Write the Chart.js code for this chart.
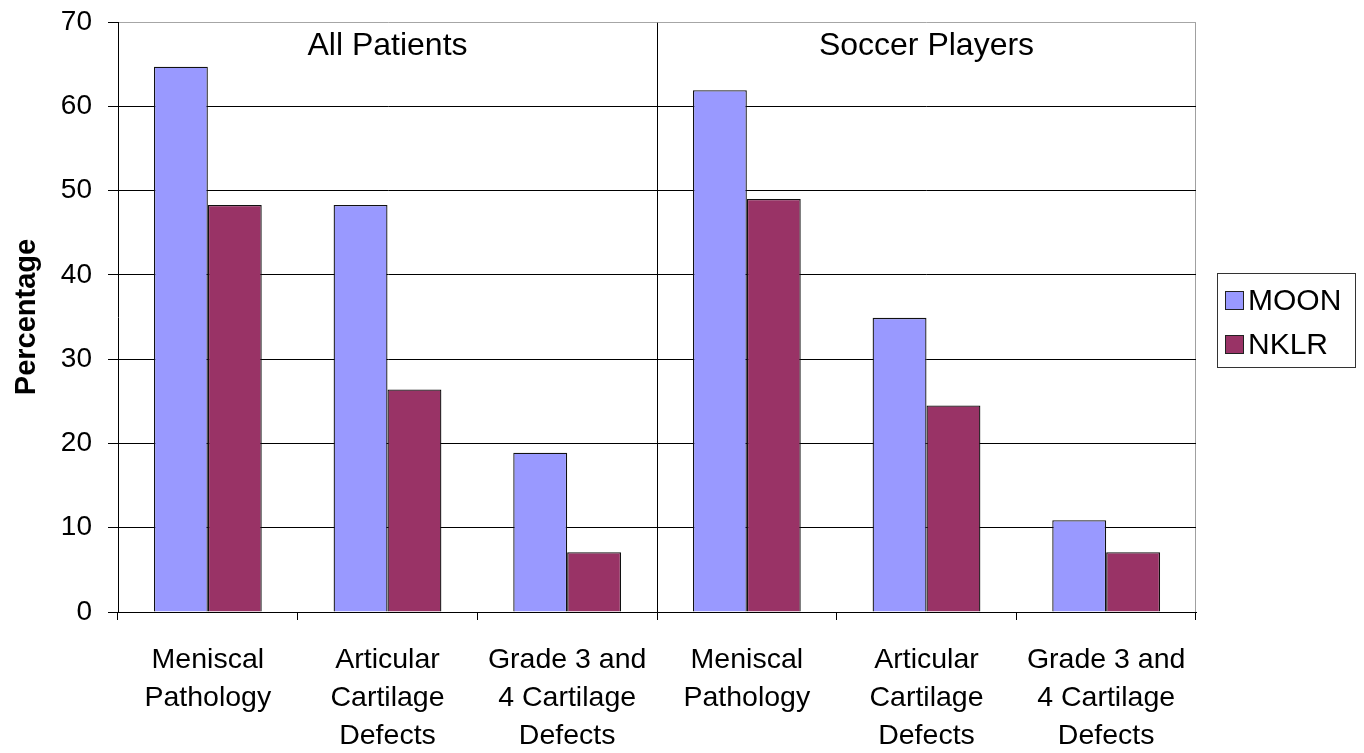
<!DOCTYPE html>
<html>
<head>
<meta charset="utf-8">
<script src="https://cdn.jsdelivr.net/npm/chart.js@4/dist/chart.umd.min.js"></script>
<style>
  html, body { margin: 0; padding: 0; background: #fff; }
  #wrap { width: 1364px; height: 753px; position: relative; }
</style>
</head>
<body>
<div id="wrap"><canvas id="c" width="1364" height="753"></canvas></div>
<script>
// Categories (two groups of three) and series values, in percent
const categories = [
  ['Meniscal', 'Pathology'],
  ['Articular', 'Cartilage', 'Defects'],
  ['Grade 3 and', '4 Cartilage', 'Defects'],
  ['Meniscal', 'Pathology'],
  ['Articular', 'Cartilage', 'Defects'],
  ['Grade 3 and', '4 Cartilage', 'Defects']
];
const groupLabels = ['All Patients', 'Soccer Players'];
const moonValues = [64.7, 48.3, 18.9, 61.9, 34.9, 10.9];
const nklrValues = [48.3, 26.4, 7.1, 49.0, 24.5, 7.1];
const seriesNames = ['MOON', 'NKLR'];
const yTicks = [0, 10, 20, 30, 40, 50, 60, 70];

const FONT = '"Liberation Sans", Arial, Helvetica, sans-serif';
const colors = ['#9999ff', '#993366'];

// Group captions inside the plot and the boxed legend on the right
const extras = {
  id: 'extras',
  afterDraw(chart) {
    const ctx = chart.ctx;
    const x = chart.scales.x, area = chart.chartArea;
    const per = groupLabels.length ? categories.length / groupLabels.length : 1;
    ctx.save();
    ctx.fillStyle = '#000';
    ctx.font = '32px ' + FONT;
    ctx.textAlign = 'center';
    ctx.textBaseline = 'middle';
    groupLabels.forEach((g, i) => {
      const l = x.getPixelForValue(i * per) - x.width / categories.length / 2;
      const r = x.getPixelForValue((i + 1) * per - 1) + x.width / categories.length / 2;
      ctx.fillText(g, (l + r) / 2, area.top + 24);
    });

    // legend
    const lx = area.right + 21, ly = area.top + 251, lw = 138, lh = 94;
    ctx.lineWidth = 1;
    ctx.strokeStyle = '#333';
    ctx.strokeRect(lx + 0.5, ly + 0.5, lw, lh);
    ctx.font = '30px ' + FONT;
    ctx.textAlign = 'left';
    seriesNames.forEach((name, i) => {
      const cy = ly + 28 + i * 44;
      ctx.fillStyle = colors[i];
      ctx.fillRect(lx + 8, cy - 10, 19, 19);
      ctx.strokeStyle = '#222';
      ctx.strokeRect(lx + 8.5, cy - 9.5, 18, 18);
      ctx.fillStyle = '#000';
      ctx.fillText(name, lx + 31, cy + 1);
    });
    ctx.restore();
  }
};

new Chart(document.getElementById('c'), {
  type: 'bar',
  data: {
    labels: categories,
    datasets: [
      { label: seriesNames[0], data: moonValues, backgroundColor: colors[0],
        borderColor: '#111', borderWidth: 1.3 },
      { label: seriesNames[1], data: nklrValues, backgroundColor: colors[1],
        borderColor: '#111', borderWidth: 1.3 }
    ]
  },
  options: {
    responsive: false,
    animation: false,
    devicePixelRatio: 1,
    layout: { padding: { top: 22, right: 168, bottom: 0, left: 0 } },
    datasets: { bar: { categoryPercentage: 0.6, barPercentage: 1.0 } },
    plugins: {
      legend: { display: false },
      tooltip: { enabled: false }
    },
    scales: {
      x: {
        offset: true,
        grid: {
          offset: true,
          drawOnChartArea: true,
          color: (c) => c.index === 3 ? '#000' : (c.index === undefined ? '#a0a0a0' : 'rgba(0,0,0,0)'),
          tickColor: '#000',
          tickLength: 8,
          lineWidth: 1
        },
        border: { color: '#000', width: 1 },
        ticks: {
          autoSkip: false,
          maxRotation: 0,
          minRotation: 0,
          padding: 21,
          color: '#000',
          font: { family: FONT, size: 28.5, lineHeight: 1.33 }
        },
        afterFit(s) { s.height = 141; }
      },
      y: {
        min: 0,
        max: 70,
        afterBuildTicks(s) { s.ticks = yTicks.map(v => ({ value: v })); },
        grid: {
          color: (c) => (c.tick && c.tick.value === 70) ? '#a6a6a6' : '#000',
          tickColor: '#000',
          tickLength: 10,
          lineWidth: 1
        },
        border: { color: '#000', width: 1 },
        ticks: {
          padding: 16,
          color: '#000',
          font: { family: FONT, size: 28 }
        },
        title: {
          display: true,
          text: 'Percentage',
          color: '#000',
          padding: { top: 10, bottom: 0 },
          font: { family: FONT, size: 29, weight: 'bold' }
        },
        afterFit(s) { s.width = 118; s.paddingTop = 0; s.paddingBottom = 0; }
      }
    }
  },
  plugins: [extras]
});
</script>
</body>
</html>
